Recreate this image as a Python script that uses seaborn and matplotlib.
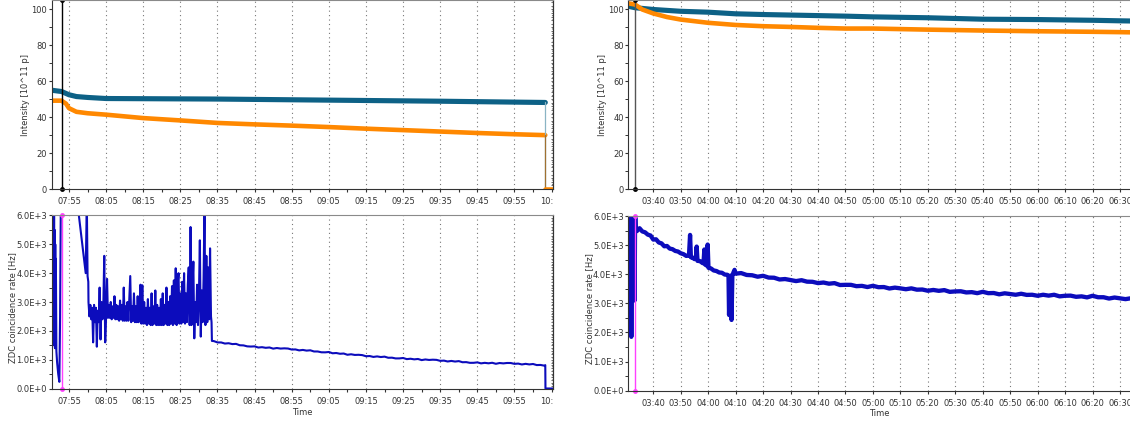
import numpy as np
import pandas as pd
import matplotlib
matplotlib.use("Agg")
import matplotlib.pyplot as plt
import matplotlib.dates as mdates
from matplotlib.ticker import MultipleLocator, FuncFormatter
from matplotlib.transforms import Bbox, TransformedBbox
import seaborn as sns

# ---------------------------------------------------------------- data
# times are minutes after the reference start of each fill
LEFT_START = "2011-05-20 07:50"
RIGHT_START = "2011-05-21 03:30"

# ---- left fill, beam intensities [10^11 p]
tl_blue_t = [0.4, 3.0, 5.0, 7.0, 10.0, 15.0, 45.0, 65.0, 85.0, 105.0, 125.0, 133.3]
tl_blue = [55.0, 54.3, 52.5, 51.5, 51.0, 50.4, 50.1, 49.7, 49.3, 48.9, 48.4, 48.2]
tl_orange_t = [0.4, 3.0, 4.2, 5.0, 7.0, 10.0, 15.0, 25.0, 35.0, 45.0, 55.0, 65.0,
               75.0, 85.0, 95.0, 105.0, 115.0, 125.0, 133.3]
tl_orange = [49.2, 49.2, 47.5, 45.0, 43.0, 42.2, 41.4, 39.5, 38.2, 36.8, 36.0, 35.3,
             34.5, 33.6, 32.8, 32.0, 31.2, 30.5, 30.0]
left_dump_t = [133.3, 135.3]      # beam dump and end of record
left_marker_t = 3.2               # stable-beams marker

# ---- left fill, ZDC coincidence rate [Hz]
bl_start_t = [0.35, 0.42, 0.5, 0.58, 0.66, 0.74, 0.82, 0.9, 0.98, 1.06, 1.14, 1.22,
              1.3, 1.38, 1.46, 1.6, 1.8, 2.1, 2.4, 2.6, 2.8,
              7.2, 9.5, 9.8, 10.0, 10.2]
bl_start = [6500, 1800, 6500, 1500, 6500, 2000, 6200, 1500, 6500, 1600, 5500, 1400,
            5000, 1400, 4500, 1300, 900, 500, 230, 2500, 6500,
            6500, 4000, 6500, 3900, 3700]
# noisy period, one reading every 15 s from 08:00:15
bl_noisy = [
    3000, 2500, 2900, 2400, 2800, 1600, 2900, 2300, 2800, 1450, 2700, 2300,
    3500, 1700, 3000, 2400, 2900, 4600, 1600, 2500, 3800, 2450, 2900, 2450,
    3000, 2400, 2850, 2450, 3200, 2400, 2900, 2400, 2850, 2350, 3050, 2400,
    2900, 2350, 3500, 2350, 2850, 2350, 3000, 2350, 3100, 3900, 2300, 2850,
    2350, 3300, 2300, 2850, 2300, 3200, 2300, 2900, 3600, 2250, 3580, 2250,
    3000, 2250, 2800, 2200, 3100, 2250, 2800, 2200, 3300, 2200, 2850, 2250,
    3400, 2200, 2900, 2200, 2800, 2200, 3100, 2200, 3300, 2200, 2900, 2250,
    3500, 2200, 3000, 2200, 3200, 2250, 3550, 2200, 3750, 2250, 4170, 2200,
    3600, 4000, 2250, 3300, 2250, 3700, 2300, 4000, 2250, 3300, 2300, 3600,
    4200, 2200, 5600, 2200, 3500, 4400, 1740, 3000, 2300, 3600, 2200, 3200,
    5140, 1800, 3400, 2300, 3800, 6200, 2200, 4600, 2300, 4200, 2400, 4860,
    2500]
bl_step_t = [43.4, 43.5]
bl_step = [2300, 1650]
# quiet period, one reading per minute from 08:34
bl_quiet = [
    1645, 1598, 1597, 1559, 1570, 1540, 1547, 1500, 1495, 1462,
    1455, 1461, 1421, 1433, 1411, 1423, 1383, 1404, 1385, 1393,
    1386, 1351, 1355, 1322, 1338, 1314, 1325, 1284, 1284, 1256,
    1254, 1266, 1222, 1231, 1205, 1213, 1170, 1187, 1164, 1169,
    1158, 1119, 1126, 1095, 1113, 1091, 1105, 1066, 1069, 1043,
    1044, 1058, 1019, 1032, 1011, 1024, 985, 1007, 990, 999,
    993, 959, 967, 937, 956, 935, 950, 911, 915, 890,
    891, 906, 872, 890, 874, 892, 857, 884, 871, 885,
    884, 855, 864, 834, 855, 835, 850, 813, 817, 793]
bl_end_t = [133.3, 133.35, 135.3]
bl_end = [810, 0, 0]

# ---- right fill, beam intensities [10^11 p]
tr_blue_t = [0.9, 3.3, 10, 20, 30, 40, 50, 60, 70, 80, 90, 110, 130, 150, 170, 180, 184]
tr_blue = [101.8, 101.0, 100.0, 99.0, 98.5, 97.6, 97.2, 96.9, 96.6, 96.3, 95.9, 95.4,
           94.6, 94.4, 94.0, 93.7, 93.6]
tr_orange_t = [0.9, 3.3, 6, 10, 15, 20, 30, 40, 50, 60, 70, 80, 90, 110, 130, 150, 170, 180, 184]
tr_orange = [103.4, 102.8, 100.0, 97.8, 95.8, 94.4, 92.6, 91.4, 90.7, 90.3, 89.8, 89.4,
             89.4, 88.8, 88.3, 87.9, 87.6, 87.4, 87.3]
right_marker_t = 3.3

# ---- right fill, ZDC coincidence rate [Hz]
br_early_t = [0.9, 1.1, 1.3, 1.5, 1.7, 2.0, 2.2, 2.4, 2.6, 2.8, 3.0, 3.2, 3.4, 3.6,
              4, 5, 6, 7, 8, 9, 10, 11, 12, 13, 14, 15, 16, 17, 18, 19, 20, 21, 22,
              23.0, 23.4, 23.7, 24, 25, 25.5, 25.8, 26.1, 27, 28, 28.3, 28.6, 28.9,
              29.4, 29.8, 30.1, 31, 32, 33, 34, 35, 36, 37, 37.4, 37.6, 37.9, 38.2,
              38.5, 38.8, 39.2, 39.6, 40]
br_early = [6500, 4500, 6500, 3000, 5500, 1850, 4000, 6500, 4500, 3700, 6500, 3100, 6500, 5500,
            5480, 5580, 5470, 5440, 5360, 5330, 5190, 5200, 5090, 5060, 4960, 4970, 4880,
            4860, 4800, 4780, 4720, 4690, 4630,
            4640, 5350, 4580, 4590, 4520, 4530, 4950, 4460, 4450, 4380, 4390, 4850, 4330,
            4300, 5020, 4220, 4200, 4130, 4110, 4060, 4050, 3990, 3980, 3950, 2600, 3920, 3950,
            2430, 3950, 4060, 4150, 4020]
# one reading every 2 minutes from 04:12
br_late = [
    4040, 3975, 3965, 3915, 3946, 3885, 3880, 3820, 3835, 3800,
    3765, 3795, 3745, 3740, 3695, 3715, 3675, 3695, 3630, 3636,
    3635, 3590, 3600, 3560, 3603, 3555, 3560, 3510, 3540, 3515,
    3485, 3515, 3470, 3475, 3433, 3460, 3430, 3455, 3395, 3410,
    3415, 3375, 3385, 3350, 3396, 3350, 3355, 3310, 3345, 3320,
    3295, 3330, 3290, 3295, 3260, 3295, 3265, 3295, 3240, 3260,
    3265, 3225, 3240, 3205, 3260, 3210, 3210, 3165, 3200, 3172,
    3145, 3175]

# ---------------------------------------------------------------- helpers
def stamp(start, minutes):
    return pd.Timestamp(start) + pd.to_timedelta(np.asarray(minutes, dtype=float), unit="min")


def line(ax, x, y, color, lw, **kw):
    sns.lineplot(x=pd.DatetimeIndex(x), y=np.asarray(y, dtype=float), ax=ax, color=color,
                 linewidth=lw, estimator=None, sort=False, errorbar=None, legend=False, **kw)


sns.set_theme(style="ticks")
plt.rcParams["font.family"] = ["DejaVu Sans"]

BLUE = "#0d6186"
ORANGE = "#ff8800"
ZDC = "#0c0cbc"
MAGENTA = "#ff40ff"
TXT = "#333333"

W, H = 1130, 423
fig = plt.figure(figsize=(W / 100, H / 100), dpi=100)
fig.patch.set_facecolor("white")


def box(x0, x1, ytop, ybot):
    return [x0 / W, (H - ybot) / H, (x1 - x0) / W, (ybot - ytop) / H]


ax_tl = fig.add_axes(box(51.7, 552.7, 0.5, 189.0))
ax_bl = fig.add_axes(box(51.7, 552.7, 215.5, 388.5))
ax_tr = fig.add_axes(box(628.3, 1131.0, 0.5, 189.3))
ax_br = fig.add_axes(box(628.3, 1131.0, 216.0, 390.7))

# ---------------------------------------------------------------- left top
line(ax_tl, stamp(LEFT_START, tl_blue_t), tl_blue, BLUE, 3.7)
line(ax_tl, stamp(LEFT_START, tl_orange_t), tl_orange, ORANGE, 3.3)
line(ax_tl, stamp(LEFT_START, [left_dump_t[0]] * 2), [tl_blue[-1], 0], "#8ab4c4", 0.9)
line(ax_tl, stamp(LEFT_START, [left_dump_t[0]] * 2), [tl_orange[-1], 0], "#a07030", 0.9)
line(ax_tl, stamp(LEFT_START, left_dump_t), [0, 0], ORANGE, 3.3)
line(ax_tl, stamp(LEFT_START, [left_marker_t] * 2), [0, 105], "black", 1.0,
     marker="o", markersize=3.5, markeredgewidth=0, clip_on=False)

# ---------------------------------------------------------------- left bottom
bl_t = (list(stamp(LEFT_START, bl_start_t))
        + list(pd.date_range(pd.Timestamp(LEFT_START) + pd.Timedelta(minutes=10.25),
                             periods=len(bl_noisy), freq="15s"))
        + list(stamp(LEFT_START, bl_step_t))
        + list(pd.date_range(pd.Timestamp(LEFT_START) + pd.Timedelta(minutes=44),
                             periods=len(bl_quiet), freq="1min"))
        + list(stamp(LEFT_START, bl_end_t)))
bl_v = bl_start + bl_noisy + bl_step + bl_quiet + bl_end
line(ax_bl, bl_t, bl_v, ZDC, 1.5)
line(ax_bl, stamp(LEFT_START, [left_marker_t] * 2), [0, 6000], MAGENTA, 1.0,
     marker="o", markersize=3.5, markeredgewidth=0, clip_on=False)

# ---------------------------------------------------------------- right top
line(ax_tr, stamp(RIGHT_START, tr_blue_t), tr_blue, BLUE, 3.7)
line(ax_tr, stamp(RIGHT_START, tr_orange_t), tr_orange, ORANGE, 3.3)
line(ax_tr, stamp(RIGHT_START, [right_marker_t] * 2), [0, 105], "#555555", 1.0,
     marker="o", markersize=3.5, markeredgewidth=0, markerfacecolor="black", clip_on=False)

# ---------------------------------------------------------------- right bottom
br_t = (list(stamp(RIGHT_START, br_early_t))
        + list(pd.date_range(pd.Timestamp(RIGHT_START) + pd.Timedelta(minutes=42),
                             periods=len(br_late), freq="2min")))
br_v = br_early + br_late
line(ax_br, br_t, br_v, ZDC, 3.1)
line(ax_br, stamp(RIGHT_START, [right_marker_t] * 2), [0, 6000], MAGENTA, 1.0,
     marker="o", markersize=3.5, markeredgewidth=0, clip_on=False)

# ---------------------------------------------------------------- styling
int_fmt = FuncFormatter(lambda v, p: f"{v:.0f}")
zdc_fmt = FuncFormatter(lambda v, p: "0.0E+0" if abs(v) < 1e-9 else f"{v / 1000:.1f}E+3")

panels = [
    (ax_tl, LEFT_START, (0.34, 135.3), (0, 105), 20, 10, int_fmt, True),
    (ax_bl, LEFT_START, (0.34, 135.3), (0, 6000), 1000, 500, zdc_fmt, True),
    (ax_tr, RIGHT_START, (0.9, 184.0), (0, 105), 20, 10, int_fmt, False),
    (ax_br, RIGHT_START, (0.9, 184.0), (0, 6000), 1000, 500, zdc_fmt, False),
]
for ax, start, xl, yl, ymaj, ymin, fmt, is_left in panels:
    ax.set_facecolor("white")
    ax.set_xlim(pd.Timestamp(start) + pd.Timedelta(minutes=xl[0]),
                pd.Timestamp(start) + pd.Timedelta(minutes=xl[1]))
    ax.set_ylim(*yl)
    ax.yaxis.set_major_locator(MultipleLocator(ymaj))
    ax.yaxis.set_minor_locator(MultipleLocator(ymin))
    ax.yaxis.set_major_formatter(fmt)
    if is_left:
        ax.xaxis.set_major_locator(mdates.MinuteLocator(byminute=range(5, 60, 10)))
        ax.xaxis.set_minor_locator(mdates.MinuteLocator(byminute=range(0, 60, 10)))
    else:
        ax.xaxis.set_major_locator(mdates.MinuteLocator(byminute=range(0, 60, 10)))
    ax.xaxis.set_major_formatter(mdates.DateFormatter("%H:%M"))
    ax.tick_params(axis="y", which="major", length=2.5, width=0.8, pad=0.8,
                   labelsize=6, color=TXT, labelcolor=TXT)
    ax.tick_params(axis="y", which="minor", length=2.0, width=0.7, color=TXT)
    ax.tick_params(axis="x", which="major", length=2.2, width=0.8, pad=3.6,
                   labelsize=6, color=TXT, labelcolor=TXT)
    ax.tick_params(axis="x", which="minor", length=2.2, width=0.8, color=TXT)
    ax.grid(False)
    ax.grid(axis="x", which="major", linestyle=(0, (1, 3)), color="#777777", linewidth=0.8)
    ax.set_axisbelow(True)
    for s in ("left", "bottom", "right"):
        ax.spines[s].set_color(TXT)
        ax.spines[s].set_linewidth(0.8)
    ax.spines["top"].set_color("#8a8a8a")
    ax.spines["top"].set_linewidth(0.8)
    ax.set_xlabel("")
    ax.set_ylabel("")
    if is_left:
        sec = ax.secondary_yaxis("right")
        sec.yaxis.set_major_locator(MultipleLocator(2 if yl[1] < 1000 else 100))
        sec.tick_params(direction="in", length=1.6, width=0.5, labelright=False, color=TXT)
        sec.spines["right"].set_color(TXT)
        sec.spines["right"].set_linewidth(0.8)

# axis labels
for ax, x, y in [(ax_tl, -0.0513, 0.5), (ax_tr, -0.0509, 0.5)]:
    ax.set_ylabel("Intensity [10^11 p]", fontsize=6, color=TXT)
    ax.yaxis.set_label_coords(x, y)
    ax.yaxis.label.set_va("center")
for ax, x, y in [(ax_bl, -0.0786, 0.47), (ax_br, -0.0762, 0.47)]:
    ax.set_ylabel("ZDC coincidence rate [Hz]", fontsize=6, color=TXT)
    ax.yaxis.set_label_coords(x, y)
    ax.yaxis.label.set_va("center")
for ax, y in [(ax_bl, -0.136), (ax_br, -0.128)]:
    ax.set_xlabel("Time", fontsize=6, color=TXT)
    ax.xaxis.set_label_coords(0.5, y)
    ax.xaxis.label.set_va("center")

# left-panel tick labels are cut at the panel border, as in the original export
fig.canvas.draw()
clip = TransformedBbox(Bbox([[0, 0], [553 / W, 1]]), fig.transFigure)
for ax in (ax_tl, ax_bl):
    for lbl in ax.xaxis.get_majorticklabels():
        lbl.set_clip_on(True)
        lbl.set_clip_box(clip)

fig.savefig("out.png", dpi=100, facecolor="white")
